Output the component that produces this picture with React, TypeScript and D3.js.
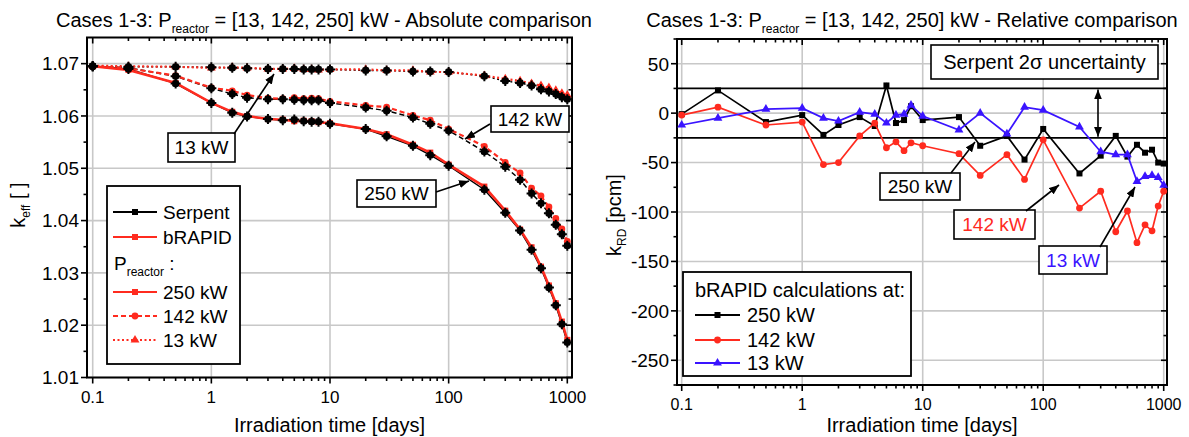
import React, { useEffect, useRef } from 'react'
import * as d3 from 'd3'

// irradiation time points [days]
const days = [0.1, 0.2, 0.5, 1, 1.5, 2, 3, 4, 5, 6, 7, 8, 10, 20, 30, 50, 70, 100, 200, 300, 400, 500, 600, 700, 800, 900, 1000]

// k_eff, absolute comparison
const serpent250 = [1.0695, 1.0690, 1.0662, 1.0625, 1.0606, 1.0599, 1.0594, 1.0592, 1.0593, 1.0590, 1.0589, 1.0589, 1.0585, 1.0575, 1.0561, 1.0543, 1.0525, 1.0505, 1.0459, 1.0415, 1.0381, 1.0344, 1.0309, 1.0272, 1.0238, 1.0202, 1.0167]
const brapid250 = [1.0695, 1.0688, 1.0663, 1.0625, 1.0608, 1.0600, 1.0594, 1.0593, 1.0590, 1.0591, 1.0590, 1.0588, 1.0586, 1.0575, 1.0565, 1.0545, 1.0530, 1.0507, 1.0465, 1.0419, 1.0383, 1.0349, 1.0312, 1.0276, 1.0242, 1.0207, 1.0172]
const serpent142 = [1.0695, 1.0692, 1.0676, 1.0653, 1.0642, 1.0635, 1.0632, 1.0632, 1.0631, 1.0630, 1.0630, 1.0630, 1.0625, 1.0616, 1.0610, 1.0597, 1.0585, 1.0572, 1.0532, 1.0503, 1.0478, 1.0452, 1.0433, 1.0414, 1.0392, 1.0374, 1.0352]
const brapid142 = [1.0695, 1.0691, 1.0677, 1.0654, 1.0648, 1.0640, 1.0634, 1.0633, 1.0635, 1.0633, 1.0634, 1.0633, 1.0628, 1.0620, 1.0617, 1.0601, 1.0592, 1.0575, 1.0542, 1.0511, 1.0491, 1.0462, 1.0447, 1.0426, 1.0404, 1.0384, 1.0360]
const serpent13 = [1.0695, 1.0694, 1.0694, 1.0693, 1.0692, 1.0691, 1.0690, 1.0690, 1.0690, 1.0689, 1.0689, 1.0689, 1.0689, 1.0687, 1.0687, 1.0685, 1.0685, 1.0684, 1.0676, 1.0667, 1.0663, 1.0658, 1.0651, 1.0647, 1.0642, 1.0636, 1.0632]
const brapid13 = [1.0696, 1.0695, 1.0694, 1.0692, 1.0693, 1.0692, 1.0690, 1.0690, 1.0691, 1.0689, 1.0689, 1.0688, 1.0689, 1.0689, 1.0687, 1.0687, 1.0684, 1.0684, 1.0677, 1.0671, 1.0667, 1.0662, 1.0658, 1.0654, 1.0649, 1.0643, 1.0640]

// k_RD [pcm], relative comparison
const krd250 = [-1, 23, -9, -2, -22, -12, -4, -13, 28, -10, -7, 7, -7, -4, -33, -23, -47, -16, -61, -43, -23, -44, -32, -40, -37, -50, -51]
const krd142 = [-2, 6, -12, -9, -52, -50, -23, -10, -35, -29, -38, -30, -33, -41, -63, -42, -67, -27, -96, -79, -120, -99, -131, -113, -119, -94, -79]
const krd13 = [-12, -5, 4, 5, -5, -8, 1, -1, -10, -2, -1, 8, -3, -17, 0, -21, 6, 3, -14, -39, -42, -42, -69, -64, -63, -65, -73]
const serpentSigma2 = 25

const xTicks = [0.1, 1, 10, 100, 1000]
const xTickLabels = ['0.1', '1', '10', '100', '1000']
const keffTicks = [1.01, 1.02, 1.03, 1.04, 1.05, 1.06, 1.07]
const keffMinor = [1.015, 1.025, 1.035, 1.045, 1.055, 1.065]
const krdTicks = [50, 0, -50, -100, -150, -200, -250]
const krdMinor = [75, 25, -25, -75, -125, -175, -225, -275]

const FONT = "'Liberation Sans', Arial, Helvetica, sans-serif"
const RED = '#ff2b1f'
const BLUE = '#3a14ff'
const GRID = '#c8c8c8'

function minorLog(lo: number, hi: number) {
  const out: number[] = []
  for (let d = 0.1; d < 1000; d *= 10)
    for (let m = 2; m <= 9; m++) {
      const v = +(d * m).toPrecision(3)
      if (v > lo && v < hi) out.push(v)
    }
  return out
}

function panel(svg: any, x: any, y: any, box: any, yTicks: number[], yMinor: number[], yFmt: (v: number) => string, xFont: number) {
  const g = svg.append('g')
  // grid
  g.selectAll('.gx').data(xTicks).enter().append('line')
    .attr('x1', (d: number) => x(d)).attr('x2', (d: number) => x(d))
    .attr('y1', box.t).attr('y2', box.b)
    .attr('stroke', GRID).attr('stroke-width', 1.6)
  g.selectAll('.gy').data(yTicks).enter().append('line')
    .attr('x1', box.l).attr('x2', box.r)
    .attr('y1', (d: number) => y(d)).attr('y2', (d: number) => y(d))
    .attr('stroke', GRID).attr('stroke-width', 1.6)

  const ticks = svg.append('g').attr('stroke', '#000').attr('stroke-width', 1.6)
  const xm = minorLog(x.invert(box.l), x.invert(box.r))
  const tx = (vals: number[], len: number) => {
    vals.forEach(v => {
      ticks.append('line').attr('x1', x(v)).attr('x2', x(v)).attr('y1', box.b).attr('y2', box.b + len)
      ticks.append('line').attr('x1', x(v)).attr('x2', x(v)).attr('y1', box.t).attr('y2', box.t + len)
    })
  }
  const ty = (vals: number[], len: number) => {
    vals.forEach(v => {
      if (y(v) < box.t - 1 || y(v) > box.b + 1) return
      ticks.append('line').attr('x1', box.l - len).attr('x2', box.l).attr('y1', y(v)).attr('y2', y(v))
      ticks.append('line').attr('x1', box.r - len).attr('x2', box.r).attr('y1', y(v)).attr('y2', y(v))
    })
  }
  tx(xTicks, 6); tx(xm, 3.5); ty(yTicks, 6); ty(yMinor, 3.5)

  svg.append('rect').attr('x', box.l).attr('y', box.t)
    .attr('width', box.r - box.l).attr('height', box.b - box.t)
    .attr('fill', 'none').attr('stroke', '#000').attr('stroke-width', 2)

  svg.append('g').selectAll('text').data(xTicks).enter().append('text')
    .attr('x', (d: number) => x(d)).attr('y', box.b + 25)
    .attr('text-anchor', 'middle').attr('font-size', xFont)
    .text((d: number, i: number) => xTickLabels[i])
  svg.append('g').selectAll('text').data(yTicks).enter().append('text')
    .attr('x', box.l - 8).attr('y', (d: number) => y(d)).attr('dy', '0.36em')
    .attr('text-anchor', 'end').attr('font-size', 19)
    .text(yFmt)

  svg.append('text').attr('x', (box.l + box.r) / 2).attr('y', 432)
    .attr('text-anchor', 'middle').attr('font-size', 20)
    .text('Irradiation time [days]')
}

function title(svg: any, cx: number, rest: string) {
  const t = svg.append('text').attr('x', cx).attr('y', 27).attr('text-anchor', 'middle').attr('font-size', 20)
  t.append('tspan').text('Cases 1-3: P')
  t.append('tspan').attr('font-size', 12).attr('dy', 6).text('reactor')
  t.append('tspan').attr('dy', -6).text(rest)
}

function marker(g: any, kind: string, cx: number, cy: number, color: string) {
  if (kind === 'square') {
    g.append('rect').attr('x', cx - 3).attr('y', cy - 3).attr('width', 6).attr('height', 6).attr('fill', color)
  } else if (kind === 'circle') {
    g.append('circle').attr('cx', cx).attr('cy', cy).attr('r', 3.4).attr('fill', color)
  } else if (kind === 'triangle') {
    g.append('path').attr('d', d3.symbol(d3.symbolTriangle, 34)()).attr('transform', `translate(${cx},${cy})`).attr('fill', color)
  } else if (kind === 'serpent') {
    g.append('rect').attr('x', cx - 3.4).attr('y', cy - 3.4).attr('width', 6.8).attr('height', 6.8)
      .attr('rx', 1.8).attr('fill', '#000')
    g.append('path').attr('d', `M${cx - 5},${cy}H${cx + 5}M${cx},${cy - 5}V${cy + 5}`).attr('stroke', '#000').attr('stroke-width', 2)
  }
}

function series(svg: any, x: any, y: any, vals: number[], color: string, dash: string | null, kind: string, width: number) {
  const line = d3.line<number>().x((d, i) => x(days[i])).y(d => y(d))
  svg.append('path').attr('d', line(vals)).attr('fill', 'none')
    .attr('stroke', color).attr('stroke-width', width)
    .attr('stroke-dasharray', dash)
  const g = svg.append('g')
  vals.forEach((v, i) => marker(g, kind, x(days[i]), y(v), color))
}

function labelBox(svg: any, x0: number, y0: number, w: number, h: number, txt: string, color: string, size: number) {
  svg.append('rect').attr('x', x0).attr('y', y0).attr('width', w).attr('height', h)
    .attr('fill', '#fff').attr('stroke', '#000').attr('stroke-width', 1.6)
  svg.append('text').attr('x', x0 + w / 2).attr('y', y0 + h / 2).attr('dy', '0.36em')
    .attr('text-anchor', 'middle').attr('font-size', size).attr('fill', color).text(txt)
}

function arrow(svg: any, x1: number, y1: number, x2: number, y2: number, both = false) {
  svg.append('line').attr('x1', x1).attr('y1', y1).attr('x2', x2).attr('y2', y2)
    .attr('stroke', '#000').attr('stroke-width', 1.6)
    .attr('marker-end', 'url(#head)')
    .attr('marker-start', both ? 'url(#headStart)' : null)
}

export default function App() {
  const ref = useRef<SVGSVGElement>(null)

  useEffect(() => {
    const svg = d3.select(ref.current)
    svg.selectAll('*').remove()
    svg.attr('font-family', FONT)

    const defs = svg.append('defs')
    defs.append('marker').attr('id', 'head').attr('viewBox', '0 0 10 8')
      .attr('refX', 10).attr('refY', 4).attr('markerWidth', 10).attr('markerHeight', 8)
      .attr('markerUnits', 'userSpaceOnUse').attr('orient', 'auto')
      .append('path').attr('d', 'M0,0L10,4L0,8z').attr('fill', '#000')
    defs.append('marker').attr('id', 'headStart').attr('viewBox', '0 0 10 8')
      .attr('refX', 10).attr('refY', 4).attr('markerWidth', 10).attr('markerHeight', 8)
      .attr('markerUnits', 'userSpaceOnUse').attr('orient', 'auto-start-reverse')
      .append('path').attr('d', 'M0,0L10,4L0,8z').attr('fill', '#000')

    // ---------- left: absolute comparison ----------
    const boxL = { l: 87, r: 572, t: 37.5, b: 377.5 }
    const xL = d3.scaleLog().domain([0.1, 1000]).range([92.7, 567.3])
    const yL = d3.scaleLinear().domain([1.01, 1.075]).range([boxL.b, boxL.t])
    panel(svg, xL, yL, boxL, keffTicks, keffMinor, (d: number) => d.toFixed(2), 17)

    series(svg, xL, yL, serpent250, '#000', null, null as any, 1.5)
    series(svg, xL, yL, serpent142, '#000', '5,3', null as any, 1.5)
    series(svg, xL, yL, serpent13, '#000', '2,2.5', null as any, 1.5)
    series(svg, xL, yL, brapid250, RED, null, 'square', 2.5)
    series(svg, xL, yL, brapid142, RED, '5,3', 'circle', 2.2)
    series(svg, xL, yL, brapid13, RED, '2,2.5', 'triangle', 2.2)
    const sm = svg.append('g')
    ;[serpent250, serpent142, serpent13].forEach(vals =>
      vals.forEach((v, i) => marker(sm, 'serpent', xL(days[i]), yL(v), '#000')))

    title(svg, 324, ' = [13, 142, 250] kW - Absolute comparison')
    const ylab = svg.append('text').attr('transform', 'translate(25,205) rotate(-90)')
      .attr('text-anchor', 'middle').attr('font-size', 20)
    ylab.append('tspan').text('k')
    ylab.append('tspan').attr('font-size', 12).attr('dy', 5).text('eff')
    ylab.append('tspan').attr('dy', -5).text(' [ ]')

    labelBox(svg, 168, 133, 67, 29, '13 kW', '#000', 19)
    arrow(svg, 234, 134, 274, 74)
    labelBox(svg, 491, 106, 78, 26, '142 kW', '#000', 19)
    arrow(svg, 490, 124, 465, 139)
    labelBox(svg, 357, 180, 79, 27, '250 kW', '#000', 19)
    arrow(svg, 436, 192, 469, 181)

    // legend (left)
    svg.append('rect').attr('x', 107).attr('y', 186).attr('width', 133).attr('height', 178)
      .attr('fill', '#fff').attr('stroke', '#000').attr('stroke-width', 1.8)
    const legL = svg.append('g').attr('font-size', 19)
    const legItems: [string, string, string | null, string, number][] = [
      ['Serpent', '#000', null, 'square', 212],
      ['bRAPID', RED, null, 'square', 237],
      ['250 kW', RED, null, 'square', 292],
      ['142 kW', RED, '5,3', 'circle', 316],
      ['13 kW', RED, '2,2.5', 'triangle', 340],
    ]
    legItems.forEach(([txt, c, dash, kind, yy]) => {
      legL.append('line').attr('x1', 113).attr('x2', 157).attr('y1', yy).attr('y2', yy)
        .attr('stroke', c).attr('stroke-width', 2).attr('stroke-dasharray', dash)
      marker(legL, kind, 135, yy, c)
      legL.append('text').attr('x', 163).attr('y', yy).attr('dy', '0.36em').text(txt)
    })
    const pr = legL.append('text').attr('x', 114).attr('y', 269.5)
    pr.append('tspan').text('P')
    pr.append('tspan').attr('font-size', 12).attr('dy', 6).text('reactor')
    pr.append('tspan').attr('dy', -6).text(' :')

    // ---------- right: relative comparison ----------
    const boxR = { l: 677, r: 1167, t: 39, b: 385 }
    const xR = d3.scaleLog().domain([0.1, 1000]).range([681.7, 1163.7])
    const yR = d3.scaleLinear().domain([-275, 75]).range([boxR.b, boxR.t])
    panel(svg, xR, yR, boxR, krdTicks, krdMinor, (d: number) => String(d), 16)

    svg.append('g').selectAll('line').data([serpentSigma2, -serpentSigma2]).enter().append('line')
      .attr('x1', boxR.l).attr('x2', boxR.r)
      .attr('y1', (d: number) => yR(d)).attr('y2', (d: number) => yR(d))
      .attr('stroke', '#000').attr('stroke-width', 1.8)

    series(svg, xR, yR, krd250, '#000', null, 'square', 1.7)
    series(svg, xR, yR, krd142, RED, null, 'circle', 1.7)
    series(svg, xR, yR, krd13, BLUE, null, 'triangle', 1.7)

    title(svg, 912, ' = [13, 142, 250] kW - Relative comparison')
    const ylabR = svg.append('text').attr('transform', 'translate(621,215) rotate(-90)')
      .attr('text-anchor', 'middle').attr('font-size', 20)
    ylabR.append('tspan').text('k')
    ylabR.append('tspan').attr('font-size', 12).attr('dy', 5).text('RD')
    ylabR.append('tspan').attr('dy', -5).text(' [pcm]')

    labelBox(svg, 931, 45, 227, 34, 'Serpent 2\u03c3 uncertainty', '#000', 20)
    arrow(svg, 1098, yR(serpentSigma2) + 1, 1098, yR(-serpentSigma2) - 1, true)
    labelBox(svg, 880, 173, 80, 27, '250 kW', '#000', 19)
    arrow(svg, 951, 173, 975, 142)
    labelBox(svg, 954, 210, 81, 29, '142 kW', RED, 19)
    arrow(svg, 1026, 211, 1059, 185)
    labelBox(svg, 1039, 246, 68, 28, '13 kW', BLUE, 19)
    arrow(svg, 1100, 247, 1135, 187)

    // legend (right)
    svg.append('rect').attr('x', 683).attr('y', 272).attr('width', 228).attr('height', 104)
      .attr('fill', '#fff').attr('stroke', '#000').attr('stroke-width', 1.8)
    const legR = svg.append('g').attr('font-size', 20)
    legR.append('text').attr('x', 695).attr('y', 296.5).text('bRAPID calculations at:')
    const legRItems: [string, string, string, number][] = [
      ['250 kW', '#000', 'square', 315],
      ['142 kW', RED, 'circle', 340],
      ['13 kW', BLUE, 'triangle', 363],
    ]
    legRItems.forEach(([txt, c, kind, yy]) => {
      legR.append('line').attr('x1', 695).attr('x2', 740).attr('y1', yy).attr('y2', yy)
        .attr('stroke', c).attr('stroke-width', 2)
      marker(legR, kind, 717.5, yy, c)
      legR.append('text').attr('x', 747).attr('y', yy).attr('dy', '0.36em').text(txt)
    })
  }, [])

  return (
    <svg ref={ref} width={1189} height={437}
      style={{ position: 'absolute', left: 0, top: 0, background: '#fff' }} />
  )
}
